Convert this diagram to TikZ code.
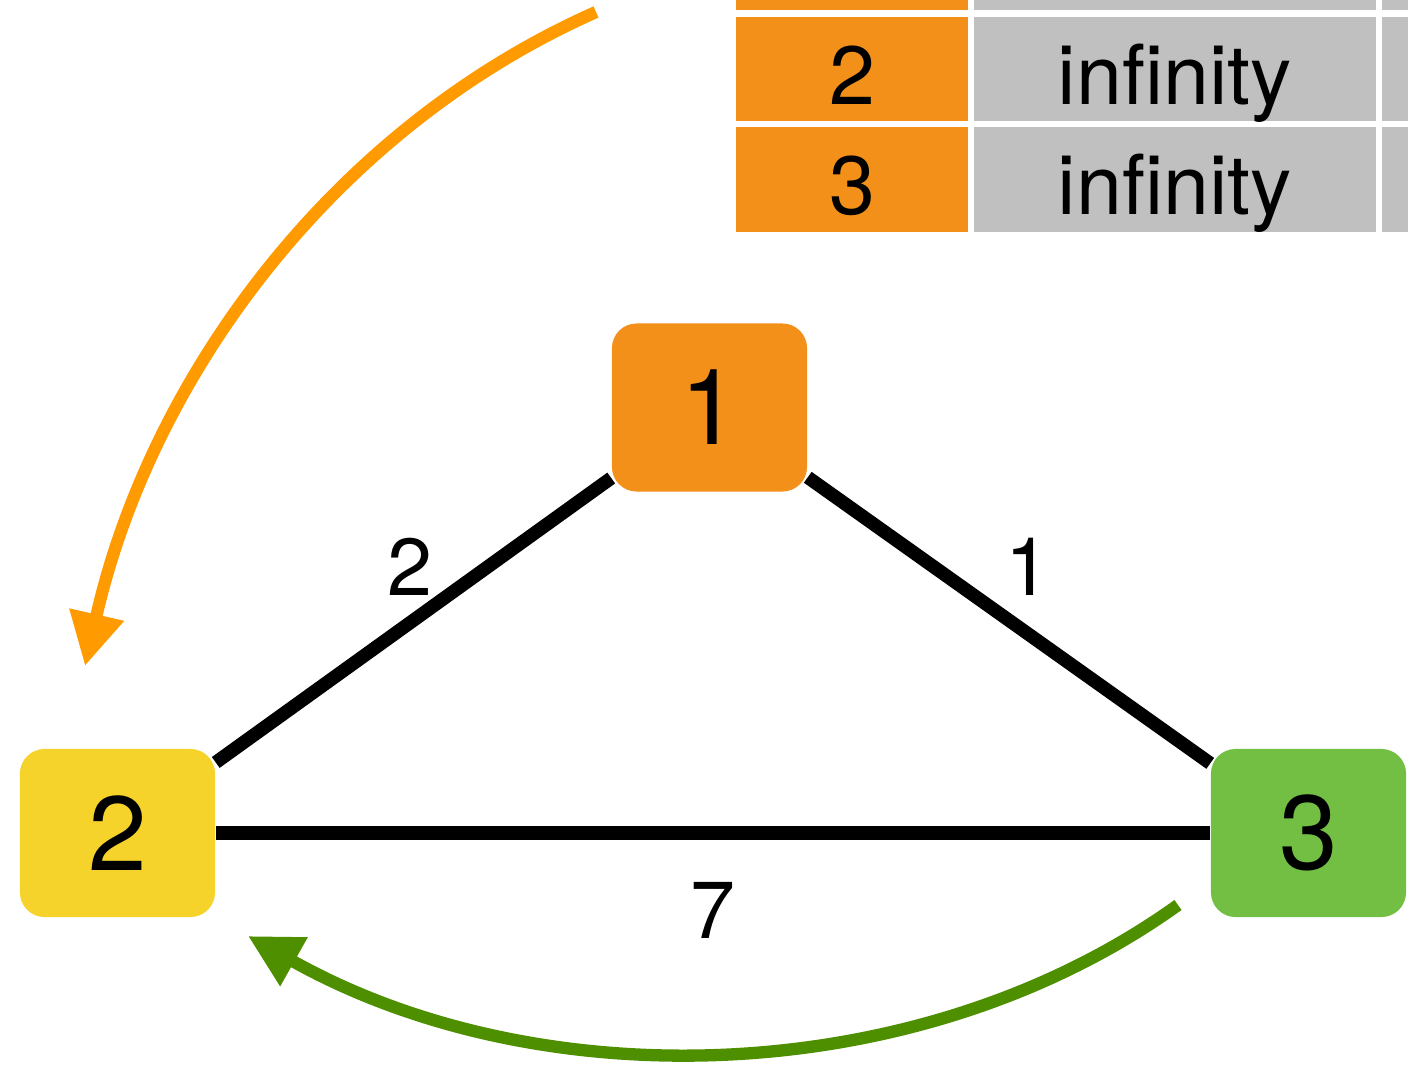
\documentclass[tikz,border=0pt]{standalone}
\usepackage{fontspec}
\setmainfont{TeX Gyre Heros}
\usetikzlibrary{arrows.meta}

\definecolor{nodeorange}{HTML}{F39019}
\definecolor{nodeyellow}{HTML}{F6D32B}
\definecolor{nodegreen}{HTML}{72BF44}
\definecolor{cellgray}{HTML}{C0C0C0}
\definecolor{arroworange}{HTML}{FF9A00}
\definecolor{arrowgreen}{HTML}{4E8F00}

\begin{document}
\begin{tikzpicture}
    [x=0.01cm,y=-0.01cm,
    vertex/.style={rectangle,rounded corners=7pt,minimum width=1.95cm,
      minimum height=1.68cm,inner sep=0pt,font=\fontsize{30}{30}\selectfont},
    keycell/.style={rectangle,fill=nodeorange,minimum width=2.32cm,
      minimum height=1.04cm,inner sep=0pt,text height=20pt,text depth=0pt,
      font=\fontsize{23.5}{23.5}\selectfont},
    distcell/.style={rectangle,fill=cellgray,minimum width=4.02cm,
      minimum height=1.04cm,inner sep=0pt,text height=20pt,text depth=0pt,
      font=\fontsize{23.5}{23.5}\selectfont},
    wlabel/.style={inner sep=0pt,font=\fontsize{23}{23}\selectfont},
    edge/.style={line width=3.8pt},
    hop/.style={line width=3.5pt,-{Triangle[length=15pt,width=15pt]}}]
    \useasboundingbox (0,0) rectangle (1408,1066);
    \clip (0,0) rectangle (1408,1066);
    % table
    \node[keycell] (k1) at (852,-42) {};
    \node[distcell] (d1) at (1175,-42) {};
    \node[distcell] (p1) at (1583,-42) {};
    \node[keycell] (k2) at (852,69) {2};
    \node[distcell] (d2) at (1175,69) {infinity};
    \node[distcell] (p2) at (1583,69) {};
    \node[keycell] (k3) at (852,179.5) {3};
    \node[distcell] (d3) at (1175,179.5) {infinity};
    \node[distcell] (p3) at (1583,179.5) {};
    % graph
    \node[vertex,fill=nodeorange] (n1) at (709.5,407.5) {1};
    \node[vertex,fill=nodeyellow] (n2) at (117.5,833) {2};
    \node[vertex,fill=nodegreen] (n3) at (1308.5,833) {3};
    \draw[edge] (n1) -- (n2); \draw[edge] (n1) -- (n3); \draw[edge] (n2) -- (n3);
    \node[wlabel] (w12) at (410,567) {2};
    \node[wlabel] (w13) at (1028,567) {1};
    \node[wlabel] (w23) at (713,910) {7};
    % moves
    \coordinate (o1) at (596,12);
    \coordinate (o2) at (85,666);
    \coordinate (g1) at (1178,905);
    \coordinate (g2) at (248,936);
    \draw[hop,arroworange] (o1) .. controls (330,130) and (150,380) .. (o2);
    \draw[hop,arrowgreen] (g1) .. controls (920,1090) and (540,1100) .. (g2);
  \end{tikzpicture}
\end{document}
